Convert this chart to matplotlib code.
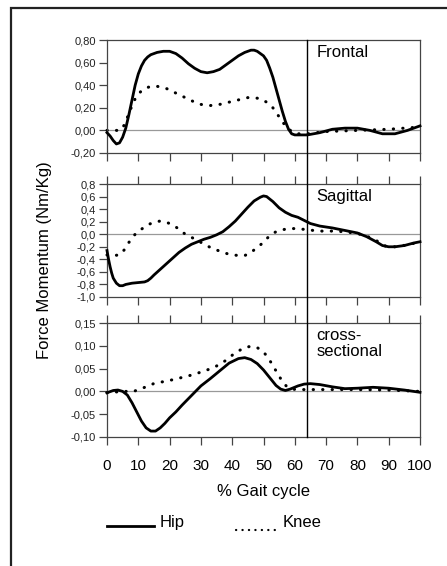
import numpy as np
import matplotlib
matplotlib.use('Agg')
import matplotlib.pyplot as plt
from matplotlib.lines import Line2D
from matplotlib.patches import Rectangle
from matplotlib.transforms import blended_transform_factory

plt.rcParams['font.family'] = ['Liberation Sans', 'DejaVu Sans']

# frontal plane
front_hip_x = [0, 1, 2, 3, 4, 5, 6, 7, 8, 9, 10, 11, 12, 13, 14, 16, 18, 20, 22, 24, 26,
               28, 30, 32, 34, 36, 38, 40, 42, 44, 46, 47, 48, 50, 51, 52, 53, 54, 55, 56,
               57, 58, 59, 60, 64, 68, 72, 76, 80, 84, 88, 92, 96, 100]
front_hip = [-0.02, -0.05, -0.09, -0.12, -0.11, -0.06, 0.02, 0.14, 0.27, 0.40, 0.50, 0.57,
             0.62, 0.65, 0.67, 0.69, 0.70, 0.70, 0.68, 0.64, 0.59, 0.55, 0.52, 0.51, 0.52,
             0.54, 0.58, 0.62, 0.66, 0.69, 0.71, 0.71, 0.70, 0.66, 0.62, 0.55, 0.47, 0.37,
             0.27, 0.17, 0.08, 0.01, -0.03, -0.04, -0.04, -0.02, 0.01, 0.02, 0.02, 0.0,
             -0.03, -0.03, 0.0, 0.04]
front_knee_x = [0, 4, 5, 6, 7, 8, 9, 10, 11, 12, 14, 16, 18, 20, 22, 25, 28, 30, 33, 36,
                39, 42, 45, 47, 49, 51, 53, 55, 57, 59, 61, 64, 70, 80, 90, 95, 100]
front_knee = [0.0, 0.0, 0.02, 0.08, 0.15, 0.22, 0.28, 0.32, 0.35, 0.37, 0.39, 0.39, 0.38,
              0.36, 0.33, 0.29, 0.25, 0.23, 0.22, 0.23, 0.25, 0.27, 0.29, 0.29, 0.28, 0.25,
              0.20, 0.12, 0.04, -0.01, -0.03, -0.03, -0.01, 0.0, 0.01, 0.02, 0.03]

# sagittal plane
sag_hip_x = [0, 0.5, 1, 1.5, 2, 3, 4, 5, 6, 8, 10, 12, 13, 14, 15, 17, 19, 21, 23, 25, 27,
             29, 31, 33, 35, 37, 39, 41, 43, 45, 47, 49, 50, 51, 53, 55, 57, 59, 61, 63,
             65, 68, 72, 76, 80, 83, 86, 88, 90, 92, 95, 98, 100]
sag_hip = [-0.26, -0.40, -0.52, -0.62, -0.70, -0.78, -0.82, -0.82, -0.80, -0.78, -0.77,
           -0.76, -0.74, -0.70, -0.65, -0.56, -0.47, -0.38, -0.29, -0.22, -0.16, -0.12,
           -0.08, -0.05, -0.01, 0.04, 0.12, 0.21, 0.32, 0.43, 0.53, 0.59, 0.61, 0.60, 0.52,
           0.42, 0.35, 0.30, 0.27, 0.22, 0.17, 0.13, 0.10, 0.06, 0.02, -0.04, -0.12, -0.18,
           -0.20, -0.20, -0.18, -0.14, -0.12]
sag_knee_x = [0, 2, 4, 5.5, 7, 9, 11, 13, 15, 17, 19, 21, 23, 25, 27, 29, 31, 33, 36, 39,
              42, 44, 46, 48, 50, 52, 54, 56, 58, 61, 64, 68, 72, 76, 80, 83, 86, 89, 92,
              96, 100]
sag_knee = [-0.33, -0.34, -0.33, -0.25, -0.13, 0.0, 0.08, 0.15, 0.19, 0.21, 0.19, 0.15,
            0.08, 0.0, -0.05, -0.10, -0.16, -0.21, -0.27, -0.32, -0.34, -0.34, -0.29, -0.21,
            -0.13, -0.02, 0.04, 0.07, 0.09, 0.09, 0.07, 0.05, 0.05, 0.04, 0.01, -0.03,
            -0.10, -0.19, -0.20, -0.17, -0.12]

# cross-sectional plane
cross_hip_x = [0, 2, 3.5, 5, 6.5, 8, 9.5, 11, 12.5, 14, 15.5, 17, 18.5, 20, 22, 24, 26, 28,
               30, 33, 36, 39, 42, 44, 46, 48, 50, 52, 54, 55.5, 57, 58.5, 61, 63, 65, 68,
               72, 76, 80, 85, 90, 95, 100]
cross_hip = [-0.003, 0.002, 0.003, 0.0, -0.008, -0.025, -0.045, -0.065, -0.080, -0.087,
             -0.087, -0.080, -0.070, -0.058, -0.045, -0.030, -0.016, -0.002, 0.012, 0.028,
             0.045, 0.062, 0.072, 0.074, 0.070, 0.061, 0.047, 0.030, 0.013, 0.005, 0.002,
             0.005, 0.012, 0.016, 0.017, 0.015, 0.010, 0.006, 0.007, 0.009, 0.007, 0.003,
             -0.002]
cross_knee_x = [0, 5, 8.5, 11.7, 14.9, 21.3, 27.7, 34.1, 38, 41, 44, 46, 48, 50, 52, 54,
                56, 57.5, 59, 61, 70, 80, 90, 100]
cross_knee = [-0.003, 0.0, 0.0, 0.008, 0.017, 0.026, 0.037, 0.052, 0.068, 0.085, 0.096,
              0.099, 0.096, 0.087, 0.068, 0.045, 0.022, 0.010, 0.005, 0.004, 0.004, 0.004,
              0.003, 0.0]

x_ticks = list(range(0, 101, 10))
toe_off = 64

panels = [
    ('Frontal', front_hip_x, front_hip, front_knee_x, front_knee,
     [-0.2, 0.0, 0.2, 0.4, 0.6, 0.8], ['-0,20', '0,00', '0,20', '0,40', '0,60', '0,80'],
     (-0.2, 0.8)),
    ('Sagittal', sag_hip_x, sag_hip, sag_knee_x, sag_knee,
     [-1.0, -0.8, -0.6, -0.4, -0.2, 0.0, 0.2, 0.4, 0.6, 0.8],
     ['-1,0', '-0,8', '-0,6', '-0,4', '-0,2', '0,0', '0,2', '0,4', '0,6', '0,8'],
     (-1.0, 0.8)),
    ('cross-\nsectional', cross_hip_x, cross_hip, cross_knee_x, cross_knee,
     [-0.10, -0.05, 0.0, 0.05, 0.10, 0.15],
     ['-0,10', '-0,05', '0,00', '0,05', '0,10', '0,15'],
     (-0.10, 0.15)),
]

W, H = 447, 566
boxes = [(40, 153), (184, 297), (323, 437)]  # top/bottom in pixels

fig = plt.figure(figsize=(W / 100, H / 100), dpi=100)

# outer frame, partly cut by the image edge
fig.add_artist(Rectangle((11 / W, -0.2), 2.0, 1 - 8 / H + 0.2, transform=fig.transFigure,
                         fill=False, edgecolor='#222222', linewidth=1.6, clip_on=False))

axes = []
for i, (name, hx, hy, kx, ky, yt, ytl, ylim) in enumerate(panels):
    top, bot = boxes[i]
    ax = fig.add_axes([107 / W, 1 - bot / H, 313 / W, (bot - top) / H])
    ax.axhline(0, color='#999999', linewidth=0.9, zorder=1)
    ax.plot(hx, hy, color='black', linewidth=2.0, zorder=3, clip_on=False,
            solid_joinstyle='round')
    ax.plot(kx, ky, color='black', linewidth=2.2, linestyle=(0, (0.1, 3.0)),
            dash_capstyle='round', zorder=2, clip_on=False)
    ax.set_xlim(0, 100)
    ax.set_ylim(*ylim)
    ax.set_yticks(yt)
    ax.set_yticklabels(ytl, fontsize=8, color='#222222')
    ax.set_xticks(x_ticks)
    ax.tick_params(axis='both', direction='out', length=6, width=0.9, color='#444444')
    ax.tick_params(axis='y', pad=2)
    if i == 0:
        ax.tick_params(axis='x', bottom=True, top=False, labelbottom=False)
    elif i == 1:
        ax.tick_params(axis='x', bottom=True, top=True, labelbottom=False)
    else:
        ax.tick_params(axis='x', bottom=True, top=True, labelbottom=True,
                       labelsize=11, pad=10, labelcolor='black')
    for s in ax.spines.values():
        s.set_linewidth(0.9)
        s.set_color('#444444')
    ax.text(0.67, 0.96, name, transform=ax.transAxes, fontsize=12, va='top',
            ha='left', linespacing=1.1)
    axes.append(ax)

axes[2].set_xlabel('% Gait cycle', fontsize=12, labelpad=8)

# vertical line at toe-off running through all panels
tr = blended_transform_factory(axes[0].transData, fig.transFigure)
fig.add_artist(Line2D([toe_off, toe_off], [1 - 40 / H, 1 - 437 / H], transform=tr,
                      color='black', linewidth=1.0))

fig.text(45 / W, 1 - 260 / H, 'Force Momentum (Nm/Kg)', rotation=90, fontsize=12,
         ha='center', va='center')

# legend drawn by hand
fig.add_artist(Line2D([107 / W, 154 / W], [1 - 526 / H, 1 - 526 / H], color='black',
                      linewidth=2.0))
fig.text(160 / W, 1 - 527 / H, 'Hip', fontsize=12, va='baseline')
fig.add_artist(Line2D([236 / W, 277 / W], [1 - 530 / H, 1 - 530 / H], color='black',
                      linewidth=1.6, linestyle=(0, (0.1, 2.8)), dash_capstyle='round'))
fig.text(283 / W, 1 - 527 / H, 'Knee', fontsize=12, va='baseline')

fig.savefig('out.png', dpi=100)
